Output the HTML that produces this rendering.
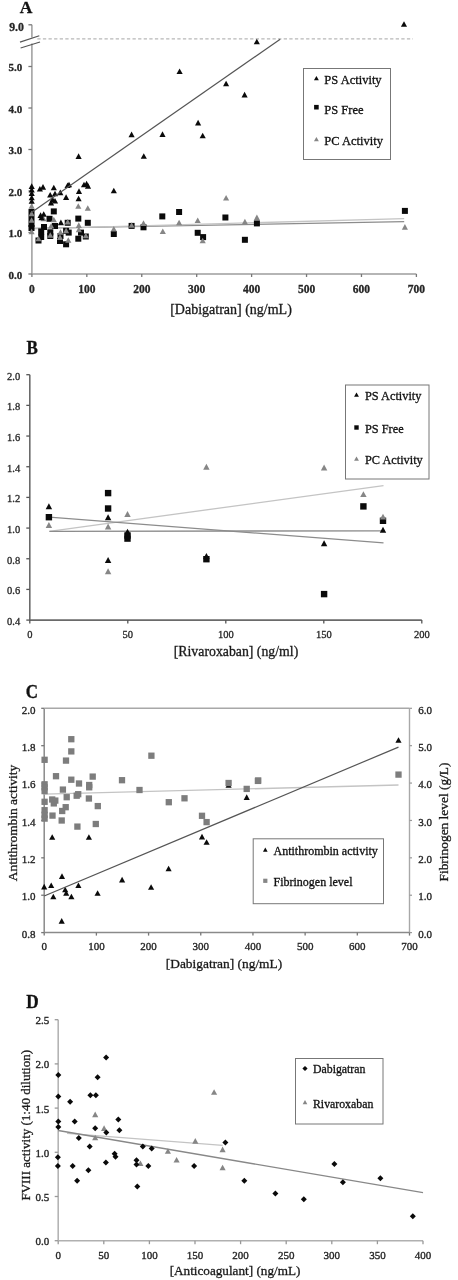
<!DOCTYPE html>
<html><head><meta charset="utf-8"><style>
html,body{margin:0;padding:0;background:#fff;width:458px;height:1280px;overflow:hidden}
svg{display:block;font-family:"Liberation Serif", serif;filter:grayscale(1)}
</style></head><body>
<svg width="458" height="1280" viewBox="0 0 458 1280">
<text x="26.00" y="13.20" font-size="17.5" text-anchor="middle" font-weight="bold" fill="#111"  stroke="#111" stroke-width="0.3">A</text>
<line x1="31.90" y1="24.80" x2="31.90" y2="37.50" stroke="#9c9c9c" stroke-width="1.5" />
<line x1="31.90" y1="43.50" x2="31.90" y2="274.00" stroke="#9c9c9c" stroke-width="1.5" />
<line x1="28.40" y1="24.80" x2="31.90" y2="24.80" stroke="#777" stroke-width="1.3" />
<line x1="28.40" y1="274.00" x2="31.90" y2="274.00" stroke="#777" stroke-width="1.3" />
<text x="22.20" y="278.90" font-size="11" text-anchor="end" font-weight="bold" fill="#262626"  stroke="#262626" stroke-width="0.3">0.0</text>
<line x1="28.40" y1="232.50" x2="31.90" y2="232.50" stroke="#777" stroke-width="1.3" />
<text x="22.20" y="237.40" font-size="11" text-anchor="end" font-weight="bold" fill="#262626"  stroke="#262626" stroke-width="0.3">1.0</text>
<line x1="28.40" y1="191.00" x2="31.90" y2="191.00" stroke="#777" stroke-width="1.3" />
<text x="22.20" y="195.90" font-size="11" text-anchor="end" font-weight="bold" fill="#262626"  stroke="#262626" stroke-width="0.3">2.0</text>
<line x1="28.40" y1="149.50" x2="31.90" y2="149.50" stroke="#777" stroke-width="1.3" />
<text x="22.20" y="154.40" font-size="11" text-anchor="end" font-weight="bold" fill="#262626"  stroke="#262626" stroke-width="0.3">3.0</text>
<line x1="28.40" y1="108.00" x2="31.90" y2="108.00" stroke="#777" stroke-width="1.3" />
<text x="22.20" y="112.90" font-size="11" text-anchor="end" font-weight="bold" fill="#262626"  stroke="#262626" stroke-width="0.3">4.0</text>
<line x1="28.40" y1="66.50" x2="31.90" y2="66.50" stroke="#777" stroke-width="1.3" />
<text x="22.20" y="71.40" font-size="11" text-anchor="end" font-weight="bold" fill="#262626"  stroke="#262626" stroke-width="0.3">5.0</text>
<text x="23.90" y="30.90" font-size="11.8" text-anchor="end" font-weight="bold" fill="#262626"  stroke="#262626" stroke-width="0.3">9.0</text>
<line x1="20.00" y1="42.10" x2="39.30" y2="35.70" stroke="#555" stroke-width="1.2" />
<line x1="20.60" y1="48.00" x2="40.00" y2="42.00" stroke="#555" stroke-width="1.2" />
<line x1="37.30" y1="38.90" x2="413.00" y2="38.90" stroke="#b8b8b8" stroke-width="1.1" stroke-dasharray="3.3 2.3"/>
<line x1="31.90" y1="274.00" x2="416.40" y2="274.00" stroke="#9c9c9c" stroke-width="1.5" />
<line x1="31.90" y1="274.00" x2="31.90" y2="277.00" stroke="#777" stroke-width="1.3" />
<text x="31.90" y="292.80" font-size="11.5" text-anchor="middle" font-weight="bold" fill="#262626"  stroke="#262626" stroke-width="0.3">0</text>
<line x1="86.83" y1="274.00" x2="86.83" y2="277.00" stroke="#777" stroke-width="1.3" />
<text x="86.83" y="292.80" font-size="11.5" text-anchor="middle" font-weight="bold" fill="#262626"  stroke="#262626" stroke-width="0.3">100</text>
<line x1="141.76" y1="274.00" x2="141.76" y2="277.00" stroke="#777" stroke-width="1.3" />
<text x="141.76" y="292.80" font-size="11.5" text-anchor="middle" font-weight="bold" fill="#262626"  stroke="#262626" stroke-width="0.3">200</text>
<line x1="196.69" y1="274.00" x2="196.69" y2="277.00" stroke="#777" stroke-width="1.3" />
<text x="196.69" y="292.80" font-size="11.5" text-anchor="middle" font-weight="bold" fill="#262626"  stroke="#262626" stroke-width="0.3">300</text>
<line x1="251.61" y1="274.00" x2="251.61" y2="277.00" stroke="#777" stroke-width="1.3" />
<text x="251.61" y="292.80" font-size="11.5" text-anchor="middle" font-weight="bold" fill="#262626"  stroke="#262626" stroke-width="0.3">400</text>
<line x1="306.54" y1="274.00" x2="306.54" y2="277.00" stroke="#777" stroke-width="1.3" />
<text x="306.54" y="292.80" font-size="11.5" text-anchor="middle" font-weight="bold" fill="#262626"  stroke="#262626" stroke-width="0.3">500</text>
<line x1="361.47" y1="274.00" x2="361.47" y2="277.00" stroke="#777" stroke-width="1.3" />
<text x="361.47" y="292.80" font-size="11.5" text-anchor="middle" font-weight="bold" fill="#262626"  stroke="#262626" stroke-width="0.3">600</text>
<line x1="416.40" y1="274.00" x2="416.40" y2="277.00" stroke="#777" stroke-width="1.3" />
<text x="416.40" y="292.80" font-size="11.5" text-anchor="middle" font-weight="bold" fill="#262626"  stroke="#262626" stroke-width="0.3">700</text>
<text x="231.00" y="314.00" font-size="14" text-anchor="middle" font-weight="normal" fill="#1a1a1a"  stroke="#1a1a1a" stroke-width="0.3">[Dabigatran] (ng/mL)</text>
<rect x="303.5" y="68.5" width="87" height="91" fill="none" stroke="#777" stroke-width="1"/>
<path d="M316.40 75.91L318.84 80.37L313.96 80.37Z" fill="#0a0a0a"/>
<text x="324.30" y="83.50" font-size="12.5" text-anchor="start" font-weight="normal" fill="#111"  stroke="#111" stroke-width="0.3">PS Activity</text>
<rect x="314.10" y="104.90" width="4.60" height="4.60" fill="#0a0a0a"/>
<text x="324.30" y="113.50" font-size="12.5" text-anchor="start" font-weight="normal" fill="#111"  stroke="#111" stroke-width="0.3">PS Free</text>
<path d="M316.40 136.91L318.84 141.37L313.96 141.37Z" fill="#868686"/>
<text x="324.30" y="144.50" font-size="12.5" text-anchor="start" font-weight="normal" fill="#111"  stroke="#111" stroke-width="0.3">PC Activity</text>
<text x="0.00" y="0.00" font-size="17" text-anchor="middle" font-weight="bold" fill="#111" transform="translate(32.1 353.6) scale(1 1.12)" stroke="#111" stroke-width="0.3">B</text>
<line x1="29.80" y1="374.70" x2="29.80" y2="620.10" stroke="#6a6a6a" stroke-width="1.6" />
<line x1="26.30" y1="620.10" x2="29.80" y2="620.10" stroke="#555" stroke-width="1.3" />
<text x="20.20" y="625.10" font-size="10.5" text-anchor="end" font-weight="normal" fill="#262626"  stroke="#262626" stroke-width="0.3">0.4</text>
<line x1="26.30" y1="589.42" x2="29.80" y2="589.42" stroke="#555" stroke-width="1.3" />
<text x="20.20" y="594.42" font-size="10.5" text-anchor="end" font-weight="normal" fill="#262626"  stroke="#262626" stroke-width="0.3">0.6</text>
<line x1="26.30" y1="558.75" x2="29.80" y2="558.75" stroke="#555" stroke-width="1.3" />
<text x="20.20" y="563.75" font-size="10.5" text-anchor="end" font-weight="normal" fill="#262626"  stroke="#262626" stroke-width="0.3">0.8</text>
<line x1="26.30" y1="528.08" x2="29.80" y2="528.08" stroke="#555" stroke-width="1.3" />
<text x="20.20" y="533.08" font-size="10.5" text-anchor="end" font-weight="normal" fill="#262626"  stroke="#262626" stroke-width="0.3">1.0</text>
<line x1="26.30" y1="497.40" x2="29.80" y2="497.40" stroke="#555" stroke-width="1.3" />
<text x="20.20" y="502.40" font-size="10.5" text-anchor="end" font-weight="normal" fill="#262626"  stroke="#262626" stroke-width="0.3">1.2</text>
<line x1="26.30" y1="466.73" x2="29.80" y2="466.73" stroke="#555" stroke-width="1.3" />
<text x="20.20" y="471.73" font-size="10.5" text-anchor="end" font-weight="normal" fill="#262626"  stroke="#262626" stroke-width="0.3">1.4</text>
<line x1="26.30" y1="436.05" x2="29.80" y2="436.05" stroke="#555" stroke-width="1.3" />
<text x="20.20" y="441.05" font-size="10.5" text-anchor="end" font-weight="normal" fill="#262626"  stroke="#262626" stroke-width="0.3">1.6</text>
<line x1="26.30" y1="405.38" x2="29.80" y2="405.38" stroke="#555" stroke-width="1.3" />
<text x="20.20" y="410.38" font-size="10.5" text-anchor="end" font-weight="normal" fill="#262626"  stroke="#262626" stroke-width="0.3">1.8</text>
<line x1="26.30" y1="374.70" x2="29.80" y2="374.70" stroke="#555" stroke-width="1.3" />
<text x="20.20" y="379.70" font-size="10.5" text-anchor="end" font-weight="normal" fill="#262626"  stroke="#262626" stroke-width="0.3">2.0</text>
<line x1="29.80" y1="620.10" x2="421.80" y2="620.10" stroke="#6a6a6a" stroke-width="1.6" />
<line x1="29.80" y1="620.10" x2="29.80" y2="623.60" stroke="#555" stroke-width="1.3" />
<text x="29.80" y="637.60" font-size="10.5" text-anchor="middle" font-weight="normal" fill="#262626"  stroke="#262626" stroke-width="0.3">0</text>
<line x1="127.80" y1="620.10" x2="127.80" y2="623.60" stroke="#555" stroke-width="1.3" />
<text x="127.80" y="637.60" font-size="10.5" text-anchor="middle" font-weight="normal" fill="#262626"  stroke="#262626" stroke-width="0.3">50</text>
<line x1="225.80" y1="620.10" x2="225.80" y2="623.60" stroke="#555" stroke-width="1.3" />
<text x="225.80" y="637.60" font-size="10.5" text-anchor="middle" font-weight="normal" fill="#262626"  stroke="#262626" stroke-width="0.3">100</text>
<line x1="323.80" y1="620.10" x2="323.80" y2="623.60" stroke="#555" stroke-width="1.3" />
<text x="323.80" y="637.60" font-size="10.5" text-anchor="middle" font-weight="normal" fill="#262626"  stroke="#262626" stroke-width="0.3">150</text>
<line x1="421.80" y1="620.10" x2="421.80" y2="623.60" stroke="#555" stroke-width="1.3" />
<text x="421.80" y="637.60" font-size="10.5" text-anchor="middle" font-weight="normal" fill="#262626"  stroke="#262626" stroke-width="0.3">200</text>
<text x="236.00" y="656.00" font-size="13.8" text-anchor="middle" font-weight="normal" fill="#1a1a1a"  stroke="#1a1a1a" stroke-width="0.3">[Rivaroxaban] (ng/ml)</text>
<rect x="345.5" y="385" width="83.5" height="94" fill="none" stroke="#777" stroke-width="1"/>
<path d="M356.50 392.41L358.94 396.87L354.06 396.87Z" fill="#0a0a0a"/>
<text x="365.00" y="400.00" font-size="12.3" text-anchor="start" font-weight="normal" fill="#111"  stroke="#111" stroke-width="0.3">PS Activity</text>
<rect x="354.30" y="425.30" width="4.40" height="4.40" fill="#0a0a0a"/>
<text x="365.00" y="432.50" font-size="12.3" text-anchor="start" font-weight="normal" fill="#111"  stroke="#111" stroke-width="0.3">PS Free</text>
<path d="M356.50 456.41L358.94 460.87L354.06 460.87Z" fill="#868686"/>
<text x="365.00" y="464.00" font-size="12.3" text-anchor="start" font-weight="normal" fill="#111"  stroke="#111" stroke-width="0.3">PC Activity</text>
<text x="0.00" y="0.00" font-size="17" text-anchor="middle" font-weight="bold" fill="#111" transform="translate(31.9 698) scale(1 1.12)" stroke="#111" stroke-width="0.3">C</text>
<line x1="44.20" y1="708.30" x2="44.20" y2="932.60" stroke="#8a8a8a" stroke-width="1.5" />
<line x1="44.20" y1="708.30" x2="409.50" y2="708.30" stroke="#a8a8a8" stroke-width="1.4" />
<line x1="409.50" y1="708.30" x2="409.50" y2="932.60" stroke="#a8a8a8" stroke-width="1.4" />
<line x1="41.20" y1="932.60" x2="44.20" y2="932.60" stroke="#777" stroke-width="1.3" />
<text x="35.60" y="937.80" font-size="11" text-anchor="end" font-weight="normal" fill="#262626" stroke="#262626" stroke-width="0.35">0.8</text>
<line x1="409.50" y1="932.60" x2="412.00" y2="932.60" stroke="#999" stroke-width="1.2" />
<text x="418.20" y="937.80" font-size="11" text-anchor="start" font-weight="normal" fill="#262626" stroke="#262626" stroke-width="0.35">0.0</text>
<line x1="41.20" y1="895.22" x2="44.20" y2="895.22" stroke="#777" stroke-width="1.3" />
<text x="35.60" y="900.42" font-size="11" text-anchor="end" font-weight="normal" fill="#262626" stroke="#262626" stroke-width="0.35">1.0</text>
<line x1="409.50" y1="895.22" x2="412.00" y2="895.22" stroke="#999" stroke-width="1.2" />
<text x="418.20" y="900.42" font-size="11" text-anchor="start" font-weight="normal" fill="#262626" stroke="#262626" stroke-width="0.35">1.0</text>
<line x1="41.20" y1="857.83" x2="44.20" y2="857.83" stroke="#777" stroke-width="1.3" />
<text x="35.60" y="863.03" font-size="11" text-anchor="end" font-weight="normal" fill="#262626" stroke="#262626" stroke-width="0.35">1.2</text>
<line x1="409.50" y1="857.83" x2="412.00" y2="857.83" stroke="#999" stroke-width="1.2" />
<text x="418.20" y="863.03" font-size="11" text-anchor="start" font-weight="normal" fill="#262626" stroke="#262626" stroke-width="0.35">2.0</text>
<line x1="41.20" y1="820.45" x2="44.20" y2="820.45" stroke="#777" stroke-width="1.3" />
<text x="35.60" y="825.65" font-size="11" text-anchor="end" font-weight="normal" fill="#262626" stroke="#262626" stroke-width="0.35">1.4</text>
<line x1="409.50" y1="820.45" x2="412.00" y2="820.45" stroke="#999" stroke-width="1.2" />
<text x="418.20" y="825.65" font-size="11" text-anchor="start" font-weight="normal" fill="#262626" stroke="#262626" stroke-width="0.35">3.0</text>
<line x1="41.20" y1="783.07" x2="44.20" y2="783.07" stroke="#777" stroke-width="1.3" />
<text x="35.60" y="788.27" font-size="11" text-anchor="end" font-weight="normal" fill="#262626" stroke="#262626" stroke-width="0.35">1.6</text>
<line x1="409.50" y1="783.07" x2="412.00" y2="783.07" stroke="#999" stroke-width="1.2" />
<text x="418.20" y="788.27" font-size="11" text-anchor="start" font-weight="normal" fill="#262626" stroke="#262626" stroke-width="0.35">4.0</text>
<line x1="41.20" y1="745.68" x2="44.20" y2="745.68" stroke="#777" stroke-width="1.3" />
<text x="35.60" y="750.88" font-size="11" text-anchor="end" font-weight="normal" fill="#262626" stroke="#262626" stroke-width="0.35">1.8</text>
<line x1="409.50" y1="745.68" x2="412.00" y2="745.68" stroke="#999" stroke-width="1.2" />
<text x="418.20" y="750.88" font-size="11" text-anchor="start" font-weight="normal" fill="#262626" stroke="#262626" stroke-width="0.35">5.0</text>
<line x1="41.20" y1="708.30" x2="44.20" y2="708.30" stroke="#777" stroke-width="1.3" />
<text x="35.60" y="713.50" font-size="11" text-anchor="end" font-weight="normal" fill="#262626" stroke="#262626" stroke-width="0.35">2.0</text>
<line x1="409.50" y1="708.30" x2="412.00" y2="708.30" stroke="#999" stroke-width="1.2" />
<text x="418.20" y="713.50" font-size="11" text-anchor="start" font-weight="normal" fill="#262626" stroke="#262626" stroke-width="0.35">6.0</text>
<line x1="44.20" y1="932.60" x2="409.50" y2="932.60" stroke="#8a8a8a" stroke-width="1.5" />
<line x1="44.20" y1="932.60" x2="44.20" y2="935.60" stroke="#777" stroke-width="1.3" />
<text x="44.20" y="949.60" font-size="11" text-anchor="middle" font-weight="normal" fill="#262626" stroke="#262626" stroke-width="0.35">0</text>
<line x1="96.39" y1="932.60" x2="96.39" y2="935.60" stroke="#777" stroke-width="1.3" />
<text x="96.39" y="949.60" font-size="11" text-anchor="middle" font-weight="normal" fill="#262626" stroke="#262626" stroke-width="0.35">100</text>
<line x1="148.57" y1="932.60" x2="148.57" y2="935.60" stroke="#777" stroke-width="1.3" />
<text x="148.57" y="949.60" font-size="11" text-anchor="middle" font-weight="normal" fill="#262626" stroke="#262626" stroke-width="0.35">200</text>
<line x1="200.76" y1="932.60" x2="200.76" y2="935.60" stroke="#777" stroke-width="1.3" />
<text x="200.76" y="949.60" font-size="11" text-anchor="middle" font-weight="normal" fill="#262626" stroke="#262626" stroke-width="0.35">300</text>
<line x1="252.94" y1="932.60" x2="252.94" y2="935.60" stroke="#777" stroke-width="1.3" />
<text x="252.94" y="949.60" font-size="11" text-anchor="middle" font-weight="normal" fill="#262626" stroke="#262626" stroke-width="0.35">400</text>
<line x1="305.13" y1="932.60" x2="305.13" y2="935.60" stroke="#777" stroke-width="1.3" />
<text x="305.13" y="949.60" font-size="11" text-anchor="middle" font-weight="normal" fill="#262626" stroke="#262626" stroke-width="0.35">500</text>
<line x1="357.31" y1="932.60" x2="357.31" y2="935.60" stroke="#777" stroke-width="1.3" />
<text x="357.31" y="949.60" font-size="11" text-anchor="middle" font-weight="normal" fill="#262626" stroke="#262626" stroke-width="0.35">600</text>
<line x1="409.50" y1="932.60" x2="409.50" y2="935.60" stroke="#777" stroke-width="1.3" />
<text x="409.50" y="949.60" font-size="11" text-anchor="middle" font-weight="normal" fill="#262626" stroke="#262626" stroke-width="0.35">700</text>
<text x="224.00" y="967.50" font-size="13.4" text-anchor="middle" font-weight="normal" fill="#1a1a1a"  stroke="#1a1a1a" stroke-width="0.3">[Dabigatran] (ng/mL)</text>
<text x="0.00" y="0.00" font-size="13.4" text-anchor="middle" font-weight="normal" fill="#1a1a1a" transform="translate(17.2 823) rotate(-90)" stroke="#1a1a1a" stroke-width="0.3">Antithrombin activity</text>
<text x="0.00" y="0.00" font-size="13.4" text-anchor="middle" font-weight="normal" fill="#1a1a1a" transform="translate(447.6 822) rotate(-90)" stroke="#1a1a1a" stroke-width="0.3">Fibrinogen level (g/L)</text>
<rect x="253.2" y="838.8" width="130.3" height="64.9" fill="none" stroke="#777" stroke-width="1"/>
<path d="M265.30 847.52L267.63 851.79L262.97 851.79Z" fill="#0a0a0a"/>
<text x="273.50" y="855.30" font-size="12" text-anchor="start" font-weight="normal" fill="#111"  stroke="#111" stroke-width="0.3">Antithrombin activity</text>
<rect x="263.20" y="878.70" width="4.20" height="4.20" fill="#868686"/>
<text x="273.50" y="885.80" font-size="12" text-anchor="start" font-weight="normal" fill="#111"  stroke="#111" stroke-width="0.3">Fibrinogen level</text>
<text x="0.00" y="0.00" font-size="17.2" text-anchor="middle" font-weight="bold" fill="#111" transform="translate(32.5 1007.7) scale(1 1.12)" stroke="#111" stroke-width="0.3">D</text>
<line x1="58.20" y1="1019.70" x2="58.20" y2="1240.70" stroke="#b4b4b4" stroke-width="1.6" />
<line x1="54.70" y1="1240.70" x2="58.20" y2="1240.70" stroke="#999" stroke-width="1.3" />
<text x="49.20" y="1245.10" font-size="11" text-anchor="end" font-weight="normal" fill="#262626" stroke="#262626" stroke-width="0.35">0.0</text>
<line x1="54.70" y1="1196.50" x2="58.20" y2="1196.50" stroke="#999" stroke-width="1.3" />
<text x="49.20" y="1200.90" font-size="11" text-anchor="end" font-weight="normal" fill="#262626" stroke="#262626" stroke-width="0.35">0.5</text>
<line x1="54.70" y1="1152.30" x2="58.20" y2="1152.30" stroke="#999" stroke-width="1.3" />
<text x="49.20" y="1156.70" font-size="11" text-anchor="end" font-weight="normal" fill="#262626" stroke="#262626" stroke-width="0.35">1.0</text>
<line x1="54.70" y1="1108.10" x2="58.20" y2="1108.10" stroke="#999" stroke-width="1.3" />
<text x="49.20" y="1112.50" font-size="11" text-anchor="end" font-weight="normal" fill="#262626" stroke="#262626" stroke-width="0.35">1.5</text>
<line x1="54.70" y1="1063.90" x2="58.20" y2="1063.90" stroke="#999" stroke-width="1.3" />
<text x="49.20" y="1068.30" font-size="11" text-anchor="end" font-weight="normal" fill="#262626" stroke="#262626" stroke-width="0.35">2.0</text>
<line x1="54.70" y1="1019.70" x2="58.20" y2="1019.70" stroke="#999" stroke-width="1.3" />
<text x="49.20" y="1024.10" font-size="11" text-anchor="end" font-weight="normal" fill="#262626" stroke="#262626" stroke-width="0.35">2.5</text>
<line x1="58.20" y1="1240.70" x2="423.00" y2="1240.70" stroke="#b0b0b0" stroke-width="1.6" />
<line x1="58.20" y1="1240.70" x2="58.20" y2="1244.20" stroke="#999" stroke-width="1.3" />
<text x="58.20" y="1258.80" font-size="11" text-anchor="middle" font-weight="normal" fill="#262626" stroke="#262626" stroke-width="0.35">0</text>
<line x1="103.80" y1="1240.70" x2="103.80" y2="1244.20" stroke="#999" stroke-width="1.3" />
<text x="103.80" y="1258.80" font-size="11" text-anchor="middle" font-weight="normal" fill="#262626" stroke="#262626" stroke-width="0.35">50</text>
<line x1="149.40" y1="1240.70" x2="149.40" y2="1244.20" stroke="#999" stroke-width="1.3" />
<text x="149.40" y="1258.80" font-size="11" text-anchor="middle" font-weight="normal" fill="#262626" stroke="#262626" stroke-width="0.35">100</text>
<line x1="195.00" y1="1240.70" x2="195.00" y2="1244.20" stroke="#999" stroke-width="1.3" />
<text x="195.00" y="1258.80" font-size="11" text-anchor="middle" font-weight="normal" fill="#262626" stroke="#262626" stroke-width="0.35">150</text>
<line x1="240.60" y1="1240.70" x2="240.60" y2="1244.20" stroke="#999" stroke-width="1.3" />
<text x="240.60" y="1258.80" font-size="11" text-anchor="middle" font-weight="normal" fill="#262626" stroke="#262626" stroke-width="0.35">200</text>
<line x1="286.20" y1="1240.70" x2="286.20" y2="1244.20" stroke="#999" stroke-width="1.3" />
<text x="286.20" y="1258.80" font-size="11" text-anchor="middle" font-weight="normal" fill="#262626" stroke="#262626" stroke-width="0.35">250</text>
<line x1="331.80" y1="1240.70" x2="331.80" y2="1244.20" stroke="#999" stroke-width="1.3" />
<text x="331.80" y="1258.80" font-size="11" text-anchor="middle" font-weight="normal" fill="#262626" stroke="#262626" stroke-width="0.35">300</text>
<line x1="377.40" y1="1240.70" x2="377.40" y2="1244.20" stroke="#999" stroke-width="1.3" />
<text x="377.40" y="1258.80" font-size="11" text-anchor="middle" font-weight="normal" fill="#262626" stroke="#262626" stroke-width="0.35">350</text>
<line x1="423.00" y1="1240.70" x2="423.00" y2="1244.20" stroke="#999" stroke-width="1.3" />
<text x="423.00" y="1258.80" font-size="11" text-anchor="middle" font-weight="normal" fill="#262626" stroke="#262626" stroke-width="0.35">400</text>
<text x="235.00" y="1275.00" font-size="13.2" text-anchor="middle" font-weight="normal" fill="#1a1a1a"  stroke="#1a1a1a" stroke-width="0.3">[Anticoagulant] (ng/mL)</text>
<text x="0.00" y="0.00" font-size="13" text-anchor="middle" font-weight="normal" fill="#1a1a1a" transform="translate(30 1125.3) rotate(-90)" stroke="#1a1a1a" stroke-width="0.3">FVIII activity (1:40 dilution)</text>
<rect x="295.5" y="1058.5" width="87.5" height="65.5" fill="none" stroke="#777" stroke-width="1"/>
<path d="M305.00 1065.90L307.60 1068.50L305.00 1071.10L302.40 1068.50Z" fill="#0a0a0a"/>
<text x="313.00" y="1073.00" font-size="11.8" text-anchor="start" font-weight="normal" fill="#111"  stroke="#111" stroke-width="0.3">Dabigatran</text>
<path d="M305.00 1100.02L307.33 1104.29L302.67 1104.29Z" fill="#868686"/>
<text x="313.00" y="1107.50" font-size="11.8" text-anchor="start" font-weight="normal" fill="#111"  stroke="#111" stroke-width="0.3">Rivaroxaban</text>
<line x1="31.40" y1="228.40" x2="404.20" y2="221.60" stroke="#8c8c8c" stroke-width="1.3" />
<line x1="31.40" y1="228.90" x2="404.20" y2="218.60" stroke="#c4c4c4" stroke-width="1.3" />
<rect x="50.80" y="208.40" width="6.00" height="6.00" fill="#0a0a0a"/>
<rect x="46.50" y="215.80" width="6.00" height="6.00" fill="#0a0a0a"/>
<rect x="75.30" y="215.60" width="6.00" height="6.00" fill="#0a0a0a"/>
<rect x="84.80" y="219.80" width="6.00" height="6.00" fill="#0a0a0a"/>
<rect x="64.70" y="219.80" width="6.00" height="6.00" fill="#0a0a0a"/>
<rect x="28.50" y="209.00" width="6.00" height="6.00" fill="#0a0a0a"/>
<rect x="28.50" y="215.00" width="6.00" height="6.00" fill="#0a0a0a"/>
<rect x="28.50" y="221.00" width="6.00" height="6.00" fill="#0a0a0a"/>
<rect x="28.50" y="225.00" width="6.00" height="6.00" fill="#0a0a0a"/>
<rect x="38.20" y="228.40" width="6.00" height="6.00" fill="#0a0a0a"/>
<rect x="38.20" y="234.00" width="6.00" height="6.00" fill="#0a0a0a"/>
<rect x="35.50" y="237.50" width="6.00" height="6.00" fill="#0a0a0a"/>
<rect x="41.00" y="224.00" width="6.00" height="6.00" fill="#0a0a0a"/>
<rect x="47.30" y="229.30" width="6.00" height="6.00" fill="#0a0a0a"/>
<rect x="47.30" y="233.00" width="6.00" height="6.00" fill="#0a0a0a"/>
<rect x="57.00" y="238.00" width="6.00" height="6.00" fill="#0a0a0a"/>
<rect x="63.10" y="227.80" width="6.00" height="6.00" fill="#0a0a0a"/>
<rect x="65.70" y="229.60" width="6.00" height="6.00" fill="#0a0a0a"/>
<rect x="78.00" y="229.60" width="6.00" height="6.00" fill="#0a0a0a"/>
<rect x="82.80" y="233.50" width="6.00" height="6.00" fill="#0a0a0a"/>
<rect x="75.30" y="235.70" width="6.00" height="6.00" fill="#0a0a0a"/>
<rect x="63.10" y="241.30" width="6.00" height="6.00" fill="#0a0a0a"/>
<rect x="57.50" y="233.00" width="6.00" height="6.00" fill="#0a0a0a"/>
<rect x="110.80" y="231.00" width="6.00" height="6.00" fill="#0a0a0a"/>
<rect x="128.60" y="222.90" width="6.00" height="6.00" fill="#0a0a0a"/>
<rect x="140.50" y="224.30" width="6.00" height="6.00" fill="#0a0a0a"/>
<rect x="159.30" y="213.40" width="6.00" height="6.00" fill="#0a0a0a"/>
<rect x="176.10" y="209.00" width="6.00" height="6.00" fill="#0a0a0a"/>
<rect x="194.70" y="229.80" width="6.00" height="6.00" fill="#0a0a0a"/>
<rect x="200.10" y="234.10" width="6.00" height="6.00" fill="#0a0a0a"/>
<rect x="222.40" y="214.50" width="6.00" height="6.00" fill="#0a0a0a"/>
<rect x="401.90" y="207.90" width="6.00" height="6.00" fill="#0a0a0a"/>
<rect x="52.00" y="223.00" width="6.00" height="6.00" fill="#0a0a0a"/>
<rect x="241.90" y="236.80" width="6.00" height="6.00" fill="#0a0a0a"/>
<rect x="253.90" y="220.40" width="6.00" height="6.00" fill="#0a0a0a"/>
<path d="M31.60 203.24L34.67 208.86L28.53 208.86Z" fill="#868686"/>
<path d="M31.60 210.74L34.67 216.36L28.53 216.36Z" fill="#868686"/>
<path d="M31.60 217.24L34.67 222.86L28.53 222.86Z" fill="#868686"/>
<path d="M31.60 228.64L34.67 234.26L28.53 234.26Z" fill="#868686"/>
<path d="M43.50 215.74L46.57 221.36L40.43 221.36Z" fill="#868686"/>
<path d="M53.80 216.74L56.87 222.36L50.73 222.36Z" fill="#868686"/>
<path d="M51.20 222.94L54.27 228.56L48.13 228.56Z" fill="#868686"/>
<path d="M38.50 235.74L41.57 241.36L35.43 241.36Z" fill="#868686"/>
<path d="M50.30 232.24L53.37 237.86L47.23 237.86Z" fill="#868686"/>
<path d="M60.00 234.34L63.07 239.96L56.93 239.96Z" fill="#868686"/>
<path d="M67.70 218.94L70.77 224.56L64.63 224.56Z" fill="#868686"/>
<path d="M78.30 203.14L81.37 208.76L75.23 208.76Z" fill="#868686"/>
<path d="M87.80 205.24L90.87 210.86L84.73 210.86Z" fill="#868686"/>
<path d="M78.80 222.34L81.87 227.96L75.73 227.96Z" fill="#868686"/>
<path d="M78.80 226.74L81.87 232.36L75.73 232.36Z" fill="#868686"/>
<path d="M85.80 232.74L88.87 238.36L82.73 238.36Z" fill="#868686"/>
<path d="M68.30 237.14L71.37 242.76L65.23 242.76Z" fill="#868686"/>
<path d="M66.10 227.74L69.17 233.36L63.03 233.36Z" fill="#868686"/>
<path d="M113.80 225.94L116.87 231.56L110.73 231.56Z" fill="#868686"/>
<path d="M131.60 222.24L134.67 227.86L128.53 227.86Z" fill="#868686"/>
<path d="M143.50 220.34L146.57 225.96L140.43 225.96Z" fill="#868686"/>
<path d="M162.80 228.44L165.87 234.06L159.73 234.06Z" fill="#868686"/>
<path d="M179.10 219.64L182.17 225.26L176.03 225.26Z" fill="#868686"/>
<path d="M197.70 217.44L200.77 223.06L194.63 223.06Z" fill="#868686"/>
<path d="M202.70 237.74L205.77 243.36L199.63 243.36Z" fill="#868686"/>
<path d="M226.10 194.94L229.17 200.56L223.03 200.56Z" fill="#868686"/>
<path d="M404.90 224.04L407.97 229.66L401.83 229.66Z" fill="#868686"/>
<path d="M60.50 229.24L63.57 234.86L57.43 234.86Z" fill="#868686"/>
<path d="M244.90 218.84L247.97 224.46L241.83 224.46Z" fill="#868686"/>
<path d="M256.90 214.54L259.97 220.16L253.83 220.16Z" fill="#868686"/>
<path d="M31.70 183.34L34.77 188.96L28.63 188.96Z" fill="#0a0a0a"/>
<path d="M31.70 186.84L34.77 192.46L28.63 192.46Z" fill="#0a0a0a"/>
<path d="M31.70 190.34L34.77 195.96L28.63 195.96Z" fill="#0a0a0a"/>
<path d="M31.70 194.74L34.77 200.36L28.63 200.36Z" fill="#0a0a0a"/>
<path d="M31.70 198.24L34.77 203.86L28.63 203.86Z" fill="#0a0a0a"/>
<path d="M39.90 185.94L42.97 191.56L36.83 191.56Z" fill="#0a0a0a"/>
<path d="M43.00 184.04L46.07 189.66L39.93 189.66Z" fill="#0a0a0a"/>
<path d="M53.80 184.74L56.87 190.36L50.73 190.36Z" fill="#0a0a0a"/>
<path d="M50.20 191.94L53.27 197.56L47.13 197.56Z" fill="#0a0a0a"/>
<path d="M55.00 190.74L58.07 196.36L51.93 196.36Z" fill="#0a0a0a"/>
<path d="M60.30 189.54L63.37 195.16L57.23 195.16Z" fill="#0a0a0a"/>
<path d="M52.60 196.74L55.67 202.36L49.53 202.36Z" fill="#0a0a0a"/>
<path d="M55.00 197.94L58.07 203.56L51.93 203.56Z" fill="#0a0a0a"/>
<path d="M51.00 199.84L54.07 205.46L47.93 205.46Z" fill="#0a0a0a"/>
<path d="M66.10 194.34L69.17 199.96L63.03 199.96Z" fill="#0a0a0a"/>
<path d="M67.60 182.44L70.67 188.06L64.53 188.06Z" fill="#0a0a0a"/>
<path d="M69.00 181.64L72.07 187.26L65.93 187.26Z" fill="#0a0a0a"/>
<path d="M78.60 195.64L81.67 201.26L75.53 201.26Z" fill="#0a0a0a"/>
<path d="M79.00 188.34L82.07 193.96L75.93 193.96Z" fill="#0a0a0a"/>
<path d="M84.00 181.74L87.07 187.36L80.93 187.36Z" fill="#0a0a0a"/>
<path d="M86.60 180.84L89.67 186.46L83.53 186.46Z" fill="#0a0a0a"/>
<path d="M88.00 183.04L91.07 188.66L84.93 188.66Z" fill="#0a0a0a"/>
<path d="M113.80 187.64L116.87 193.26L110.73 193.26Z" fill="#0a0a0a"/>
<path d="M78.60 153.34L81.67 158.96L75.53 158.96Z" fill="#0a0a0a"/>
<path d="M131.60 131.54L134.67 137.16L128.53 137.16Z" fill="#0a0a0a"/>
<path d="M143.80 153.14L146.87 158.76L140.73 158.76Z" fill="#0a0a0a"/>
<path d="M162.50 131.34L165.57 136.96L159.43 136.96Z" fill="#0a0a0a"/>
<path d="M198.10 119.84L201.17 125.46L195.03 125.46Z" fill="#0a0a0a"/>
<path d="M202.70 132.74L205.77 138.36L199.63 138.36Z" fill="#0a0a0a"/>
<path d="M179.60 68.44L182.67 74.06L176.53 74.06Z" fill="#0a0a0a"/>
<path d="M226.10 80.64L229.17 86.26L223.03 86.26Z" fill="#0a0a0a"/>
<path d="M244.60 91.84L247.67 97.46L241.53 97.46Z" fill="#0a0a0a"/>
<path d="M256.80 38.74L259.87 44.36L253.73 44.36Z" fill="#0a0a0a"/>
<path d="M404.00 21.24L407.07 26.86L400.93 26.86Z" fill="#0a0a0a"/>
<path d="M40.60 212.34L43.67 217.96L37.53 217.96Z" fill="#0a0a0a"/>
<path d="M43.70 211.14L46.77 216.76L40.63 216.76Z" fill="#0a0a0a"/>
<path d="M60.90 219.54L63.97 225.16L57.83 225.16Z" fill="#0a0a0a"/>
<path d="M41.50 214.74L44.57 220.36L38.43 220.36Z" fill="#0a0a0a"/>
<line x1="31.40" y1="212.60" x2="280.20" y2="39.20" stroke="#555" stroke-width="1.2" />
<line x1="49.40" y1="531.30" x2="383.50" y2="485.70" stroke="#c4c4c4" stroke-width="1.3" />
<line x1="49.40" y1="531.30" x2="383.50" y2="530.80" stroke="#8c8c8c" stroke-width="1.3" />
<line x1="49.40" y1="517.20" x2="383.50" y2="542.80" stroke="#8c8c8c" stroke-width="1.3" />
<rect x="45.70" y="514.00" width="6.40" height="6.40" fill="#0a0a0a"/>
<rect x="104.90" y="489.90" width="6.40" height="6.40" fill="#0a0a0a"/>
<rect x="104.90" y="505.30" width="6.40" height="6.40" fill="#0a0a0a"/>
<rect x="124.30" y="535.40" width="6.40" height="6.40" fill="#0a0a0a"/>
<rect x="124.30" y="532.30" width="6.40" height="6.40" fill="#0a0a0a"/>
<rect x="203.20" y="556.00" width="6.40" height="6.40" fill="#0a0a0a"/>
<rect x="320.90" y="590.90" width="6.40" height="6.40" fill="#0a0a0a"/>
<rect x="360.20" y="503.20" width="6.40" height="6.40" fill="#0a0a0a"/>
<rect x="379.80" y="517.60" width="6.40" height="6.40" fill="#0a0a0a"/>
<path d="M48.90 522.07L52.13 527.99L45.67 527.99Z" fill="#868686"/>
<path d="M108.10 523.47L111.33 529.39L104.87 529.39Z" fill="#868686"/>
<path d="M127.50 511.07L130.73 516.99L124.27 516.99Z" fill="#868686"/>
<path d="M108.10 568.27L111.33 574.19L104.87 574.19Z" fill="#868686"/>
<path d="M206.40 463.77L209.63 469.69L203.17 469.69Z" fill="#868686"/>
<path d="M324.10 464.47L327.33 470.39L320.87 470.39Z" fill="#868686"/>
<path d="M363.40 491.17L366.63 497.09L360.17 497.09Z" fill="#868686"/>
<path d="M383.00 513.67L386.23 519.59L379.77 519.59Z" fill="#868686"/>
<path d="M48.90 503.27L52.13 509.19L45.67 509.19Z" fill="#0a0a0a"/>
<path d="M108.10 514.27L111.33 520.19L104.87 520.19Z" fill="#0a0a0a"/>
<path d="M127.50 528.67L130.73 534.59L124.27 534.59Z" fill="#0a0a0a"/>
<path d="M108.10 556.97L111.33 562.89L104.87 562.89Z" fill="#0a0a0a"/>
<path d="M206.40 553.07L209.63 558.99L203.17 558.99Z" fill="#0a0a0a"/>
<path d="M324.10 540.37L327.33 546.29L320.87 546.29Z" fill="#0a0a0a"/>
<path d="M383.00 526.77L386.23 532.69L379.77 532.69Z" fill="#0a0a0a"/>
<line x1="44.20" y1="794.20" x2="398.50" y2="785.00" stroke="#c4c4c4" stroke-width="1.3" />
<path d="M228.60 782.24L231.67 787.86L225.53 787.86Z" fill="#0a0a0a"/>
<path d="M246.70 794.34L249.77 799.96L243.63 799.96Z" fill="#0a0a0a"/>
<path d="M202.00 833.84L205.07 839.46L198.93 839.46Z" fill="#0a0a0a"/>
<path d="M206.60 839.14L209.67 844.76L203.53 844.76Z" fill="#0a0a0a"/>
<path d="M398.50 737.14L401.57 742.76L395.43 742.76Z" fill="#0a0a0a"/>
<path d="M52.20 834.24L55.27 839.86L49.13 839.86Z" fill="#0a0a0a"/>
<path d="M88.90 834.24L91.97 839.86L85.83 839.86Z" fill="#0a0a0a"/>
<path d="M62.00 873.34L65.07 878.96L58.93 878.96Z" fill="#0a0a0a"/>
<path d="M44.20 883.84L47.27 889.46L41.13 889.46Z" fill="#0a0a0a"/>
<path d="M51.20 882.44L54.27 888.06L48.13 888.06Z" fill="#0a0a0a"/>
<path d="M53.30 893.64L56.37 899.26L50.23 899.26Z" fill="#0a0a0a"/>
<path d="M65.20 886.64L68.27 892.26L62.13 892.26Z" fill="#0a0a0a"/>
<path d="M66.20 890.14L69.27 895.76L63.13 895.76Z" fill="#0a0a0a"/>
<path d="M71.40 893.64L74.47 899.26L68.33 899.26Z" fill="#0a0a0a"/>
<path d="M78.40 882.44L81.47 888.06L75.33 888.06Z" fill="#0a0a0a"/>
<path d="M97.60 890.14L100.67 895.76L94.53 895.76Z" fill="#0a0a0a"/>
<path d="M122.10 876.84L125.17 882.46L119.03 882.46Z" fill="#0a0a0a"/>
<path d="M151.10 884.14L154.17 889.76L148.03 889.76Z" fill="#0a0a0a"/>
<path d="M168.60 865.64L171.67 871.26L165.53 871.26Z" fill="#0a0a0a"/>
<path d="M61.70 918.04L64.77 923.66L58.63 923.66Z" fill="#0a0a0a"/>
<rect x="68.15" y="736.05" width="6.30" height="6.30" fill="#7d7d7d"/>
<rect x="68.15" y="748.25" width="6.30" height="6.30" fill="#7d7d7d"/>
<rect x="41.45" y="756.65" width="6.30" height="6.30" fill="#7d7d7d"/>
<rect x="62.85" y="757.45" width="6.30" height="6.30" fill="#7d7d7d"/>
<rect x="52.85" y="773.05" width="6.30" height="6.30" fill="#7d7d7d"/>
<rect x="89.55" y="773.45" width="6.30" height="6.30" fill="#7d7d7d"/>
<rect x="68.15" y="776.55" width="6.30" height="6.30" fill="#7d7d7d"/>
<rect x="41.45" y="781.15" width="6.30" height="6.30" fill="#7d7d7d"/>
<rect x="41.45" y="784.15" width="6.30" height="6.30" fill="#7d7d7d"/>
<rect x="41.45" y="787.95" width="6.30" height="6.30" fill="#7d7d7d"/>
<rect x="75.85" y="780.35" width="6.30" height="6.30" fill="#7d7d7d"/>
<rect x="86.05" y="781.85" width="6.30" height="6.30" fill="#7d7d7d"/>
<rect x="86.05" y="784.15" width="6.30" height="6.30" fill="#7d7d7d"/>
<rect x="59.75" y="786.45" width="6.30" height="6.30" fill="#7d7d7d"/>
<rect x="75.05" y="791.05" width="6.30" height="6.30" fill="#7d7d7d"/>
<rect x="73.55" y="792.55" width="6.30" height="6.30" fill="#7d7d7d"/>
<rect x="63.55" y="794.05" width="6.30" height="6.30" fill="#7d7d7d"/>
<rect x="85.75" y="795.35" width="6.30" height="6.30" fill="#7d7d7d"/>
<rect x="49.05" y="796.35" width="6.30" height="6.30" fill="#7d7d7d"/>
<rect x="52.15" y="797.45" width="6.30" height="6.30" fill="#7d7d7d"/>
<rect x="50.65" y="800.25" width="6.30" height="6.30" fill="#7d7d7d"/>
<rect x="41.45" y="798.65" width="6.30" height="6.30" fill="#7d7d7d"/>
<rect x="94.65" y="802.95" width="6.30" height="6.30" fill="#7d7d7d"/>
<rect x="62.55" y="804.05" width="6.30" height="6.30" fill="#7d7d7d"/>
<rect x="59.05" y="807.85" width="6.30" height="6.30" fill="#7d7d7d"/>
<rect x="41.45" y="807.05" width="6.30" height="6.30" fill="#7d7d7d"/>
<rect x="41.45" y="811.65" width="6.30" height="6.30" fill="#7d7d7d"/>
<rect x="41.45" y="815.45" width="6.30" height="6.30" fill="#7d7d7d"/>
<rect x="49.35" y="812.45" width="6.30" height="6.30" fill="#7d7d7d"/>
<rect x="58.55" y="817.35" width="6.30" height="6.30" fill="#7d7d7d"/>
<rect x="92.65" y="820.85" width="6.30" height="6.30" fill="#7d7d7d"/>
<rect x="74.25" y="823.45" width="6.30" height="6.30" fill="#7d7d7d"/>
<rect x="148.25" y="752.55" width="6.30" height="6.30" fill="#7d7d7d"/>
<rect x="118.85" y="777.05" width="6.30" height="6.30" fill="#7d7d7d"/>
<rect x="136.35" y="786.85" width="6.30" height="6.30" fill="#7d7d7d"/>
<rect x="165.65" y="799.05" width="6.30" height="6.30" fill="#7d7d7d"/>
<rect x="181.35" y="795.15" width="6.30" height="6.30" fill="#7d7d7d"/>
<rect x="198.85" y="812.65" width="6.30" height="6.30" fill="#7d7d7d"/>
<rect x="203.45" y="818.95" width="6.30" height="6.30" fill="#7d7d7d"/>
<rect x="225.45" y="779.85" width="6.30" height="6.30" fill="#7d7d7d"/>
<rect x="243.55" y="785.75" width="6.30" height="6.30" fill="#7d7d7d"/>
<rect x="254.75" y="777.75" width="6.30" height="6.30" fill="#7d7d7d"/>
<rect x="255.05" y="777.35" width="6.30" height="6.30" fill="#7d7d7d"/>
<rect x="395.35" y="771.45" width="6.30" height="6.30" fill="#7d7d7d"/>
<line x1="44.20" y1="896.00" x2="398.50" y2="747.10" stroke="#555" stroke-width="1.2" />
<line x1="67.00" y1="1133.30" x2="222.60" y2="1145.30" stroke="#c4c4c4" stroke-width="1.3" />
<line x1="58.20" y1="1130.50" x2="423.00" y2="1192.70" stroke="#888" stroke-width="1.3" />
<path d="M95.20 1111.54L98.27 1117.16L92.13 1117.16Z" fill="#868686"/>
<path d="M104.10 1125.34L107.17 1130.96L101.03 1130.96Z" fill="#868686"/>
<path d="M95.20 1134.74L98.27 1140.36L92.13 1140.36Z" fill="#868686"/>
<path d="M140.40 1160.44L143.47 1166.06L137.33 1166.06Z" fill="#868686"/>
<path d="M167.90 1148.24L170.97 1153.86L164.83 1153.86Z" fill="#868686"/>
<path d="M176.60 1156.94L179.67 1162.56L173.53 1162.56Z" fill="#868686"/>
<path d="M195.30 1138.04L198.37 1143.66L192.23 1143.66Z" fill="#868686"/>
<path d="M214.10 1089.24L217.17 1094.86L211.03 1094.86Z" fill="#868686"/>
<path d="M222.60 1146.54L225.67 1152.16L219.53 1152.16Z" fill="#868686"/>
<path d="M222.60 1164.74L225.67 1170.36L219.53 1170.36Z" fill="#868686"/>
<path d="M106.10 1054.60L109.10 1057.60L106.10 1060.60L103.10 1057.60Z" fill="#0a0a0a"/>
<path d="M58.30 1072.10L61.30 1075.10L58.30 1078.10L55.30 1075.10Z" fill="#0a0a0a"/>
<path d="M97.60 1074.30L100.60 1077.30L97.60 1080.30L94.60 1077.30Z" fill="#0a0a0a"/>
<path d="M58.30 1093.50L61.30 1096.50L58.30 1099.50L55.30 1096.50Z" fill="#0a0a0a"/>
<path d="M90.40 1092.20L93.40 1095.20L90.40 1098.20L87.40 1095.20Z" fill="#0a0a0a"/>
<path d="M95.90 1092.20L98.90 1095.20L95.90 1098.20L92.90 1095.20Z" fill="#0a0a0a"/>
<path d="M70.10 1098.70L73.10 1101.70L70.10 1104.70L67.10 1101.70Z" fill="#0a0a0a"/>
<path d="M58.30 1118.40L61.30 1121.40L58.30 1124.40L55.30 1121.40Z" fill="#0a0a0a"/>
<path d="M58.30 1123.90L61.30 1126.90L58.30 1129.90L55.30 1126.90Z" fill="#0a0a0a"/>
<path d="M74.70 1118.40L77.70 1121.40L74.70 1124.40L71.70 1121.40Z" fill="#0a0a0a"/>
<path d="M95.20 1125.20L98.20 1128.20L95.20 1131.20L92.20 1128.20Z" fill="#0a0a0a"/>
<path d="M118.30 1116.40L121.30 1119.40L118.30 1122.40L115.30 1119.40Z" fill="#0a0a0a"/>
<path d="M119.40 1127.30L122.40 1130.30L119.40 1133.30L116.40 1130.30Z" fill="#0a0a0a"/>
<path d="M106.30 1129.50L109.30 1132.50L106.30 1135.50L103.30 1132.50Z" fill="#0a0a0a"/>
<path d="M78.80 1135.00L81.80 1138.00L78.80 1141.00L75.80 1138.00Z" fill="#0a0a0a"/>
<path d="M89.70 1143.50L92.70 1146.50L89.70 1149.50L86.70 1146.50Z" fill="#0a0a0a"/>
<path d="M142.80 1143.50L145.80 1146.50L142.80 1149.50L139.80 1146.50Z" fill="#0a0a0a"/>
<path d="M151.70 1145.40L154.70 1148.40L151.70 1151.40L148.70 1148.40Z" fill="#0a0a0a"/>
<path d="M114.60 1150.70L117.60 1153.70L114.60 1156.70L111.60 1153.70Z" fill="#0a0a0a"/>
<path d="M115.50 1153.70L118.50 1156.70L115.50 1159.70L112.50 1156.70Z" fill="#0a0a0a"/>
<path d="M57.90 1154.20L60.90 1157.20L57.90 1160.20L54.90 1157.20Z" fill="#0a0a0a"/>
<path d="M57.90 1162.90L60.90 1165.90L57.90 1168.90L54.90 1165.90Z" fill="#0a0a0a"/>
<path d="M72.70 1162.90L75.70 1165.90L72.70 1168.90L69.70 1165.90Z" fill="#0a0a0a"/>
<path d="M77.10 1177.70L80.10 1180.70L77.10 1183.70L74.10 1180.70Z" fill="#0a0a0a"/>
<path d="M88.40 1167.30L91.40 1170.30L88.40 1173.30L85.40 1170.30Z" fill="#0a0a0a"/>
<path d="M105.90 1159.40L108.90 1162.40L105.90 1165.40L102.90 1162.40Z" fill="#0a0a0a"/>
<path d="M136.50 1157.20L139.50 1160.20L136.50 1163.20L133.50 1160.20Z" fill="#0a0a0a"/>
<path d="M136.50 1161.60L139.50 1164.60L136.50 1167.60L133.50 1164.60Z" fill="#0a0a0a"/>
<path d="M148.30 1162.90L151.30 1165.90L148.30 1168.90L145.30 1165.90Z" fill="#0a0a0a"/>
<path d="M137.30 1183.40L140.30 1186.40L137.30 1189.40L134.30 1186.40Z" fill="#0a0a0a"/>
<path d="M194.10 1162.90L197.10 1165.90L194.10 1168.90L191.10 1165.90Z" fill="#0a0a0a"/>
<path d="M225.40 1139.40L228.40 1142.40L225.40 1145.40L222.40 1142.40Z" fill="#0a0a0a"/>
<path d="M244.30 1177.70L247.30 1180.70L244.30 1183.70L241.30 1180.70Z" fill="#0a0a0a"/>
<path d="M275.40 1190.50L278.40 1193.50L275.40 1196.50L272.40 1193.50Z" fill="#0a0a0a"/>
<path d="M303.80 1196.20L306.80 1199.20L303.80 1202.20L300.80 1199.20Z" fill="#0a0a0a"/>
<path d="M334.40 1161.00L337.40 1164.00L334.40 1167.00L331.40 1164.00Z" fill="#0a0a0a"/>
<path d="M342.90 1179.20L345.90 1182.20L342.90 1185.20L339.90 1182.20Z" fill="#0a0a0a"/>
<path d="M380.40 1175.20L383.40 1178.20L380.40 1181.20L377.40 1178.20Z" fill="#0a0a0a"/>
<path d="M412.80 1213.20L415.80 1216.20L412.80 1219.20L409.80 1216.20Z" fill="#0a0a0a"/>
</svg>
</body></html>
